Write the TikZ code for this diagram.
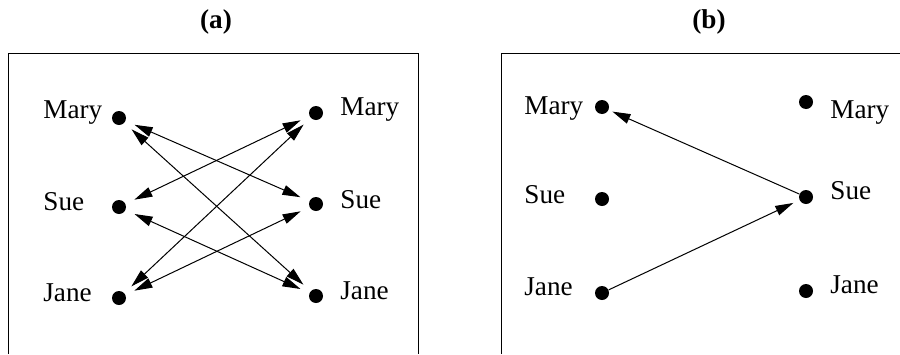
\documentclass[tikz,border=0pt]{standalone}
\usepackage{fontspec}
\setmainfont{Liberation Serif}
\usetikzlibrary{arrows.meta}
\begin{document}
\begin{tikzpicture}[x=0.5pt,y=-0.5pt,
  dot/.style={circle,fill=black,inner sep=0pt,minimum size=7pt},
  lbl/.style={anchor=base west,inner sep=0pt,font=\fontsize{13.6}{16}\selectfont},
  ttl/.style={inner sep=0pt,font=\fontsize{13.6}{16}\selectfont\bfseries},
  frame/.style={line width=0.5pt},
  tip/.style={Triangle[length=9pt,width=5pt]},
  dbl/.style={line width=0.5pt,{Triangle[length=9pt,width=5pt]}-{Triangle[length=9pt,width=5pt]},shorten <=4.8pt,shorten >=4.8pt},
  sgl/.style={line width=0.5pt,-{Triangle[length=9pt,width=5pt]}}
]
\useasboundingbox (0,0) rectangle (900,354);
% titles
\node[ttl] (ta) at (216,22) {(a)};
\node[ttl] (tb) at (709,22) {(b)};
% frames
\draw[frame] (8,354) -- (8,53) -- (418,53) -- (418,354);
\draw[frame] (501,354) -- (501,53) -- (900,53);
% panel (a)
\node[dot] (amL) at (119,118) {};
\node[dot] (asL) at (119,207) {};
\node[dot] (ajL) at (119,298) {};
\node[dot] (amR) at (316,113) {};
\node[dot] (asR) at (316,204) {};
\node[dot] (ajR) at (316,296) {};
\node[lbl] (lamL) at (43,118) {Mary};
\node[lbl] (lasL) at (43,210) {Sue};
\node[lbl] (lajL) at (43,301) {Jane};
\node[lbl] (lamR) at (340,115) {Mary};
\node[lbl] (lasR) at (340,208) {Sue};
\node[lbl] (lajR) at (340,299) {Jane};
\draw[dbl] (amL) -- (asR);
\draw[dbl] (amL) -- (ajR);
\draw[dbl] (asL) -- (amR);
\draw[dbl] (ajL) -- (amR);
\draw[dbl] (asL) -- (ajR);
\draw[dbl] (ajL) -- (asR);
% panel (b)
\node[dot] (bmL) at (602,107) {};
\node[dot] (bsL) at (602,199) {};
\node[dot] (bjL) at (602,293) {};
\node[dot] (bmR) at (806,102) {};
\node[dot] (bsR) at (806,197) {};
\node[dot] (bjR) at (806,291) {};
\node[lbl] (lbmL) at (524,114) {Mary};
\node[lbl] (lbsL) at (524,203) {Sue};
\node[lbl] (lbjL) at (524,295) {Jane};
\node[lbl] (lbmR) at (830,118) {Mary};
\node[lbl] (lbsR) at (830,199) {Sue};
\node[lbl] (lbjR) at (830,293) {Jane};
\draw[sgl,shorten >=2pt] (bsR) -- (bmL);
\draw[sgl,shorten >=3.3pt] (bjL) -- (bsR);
\end{tikzpicture}
\end{document}
